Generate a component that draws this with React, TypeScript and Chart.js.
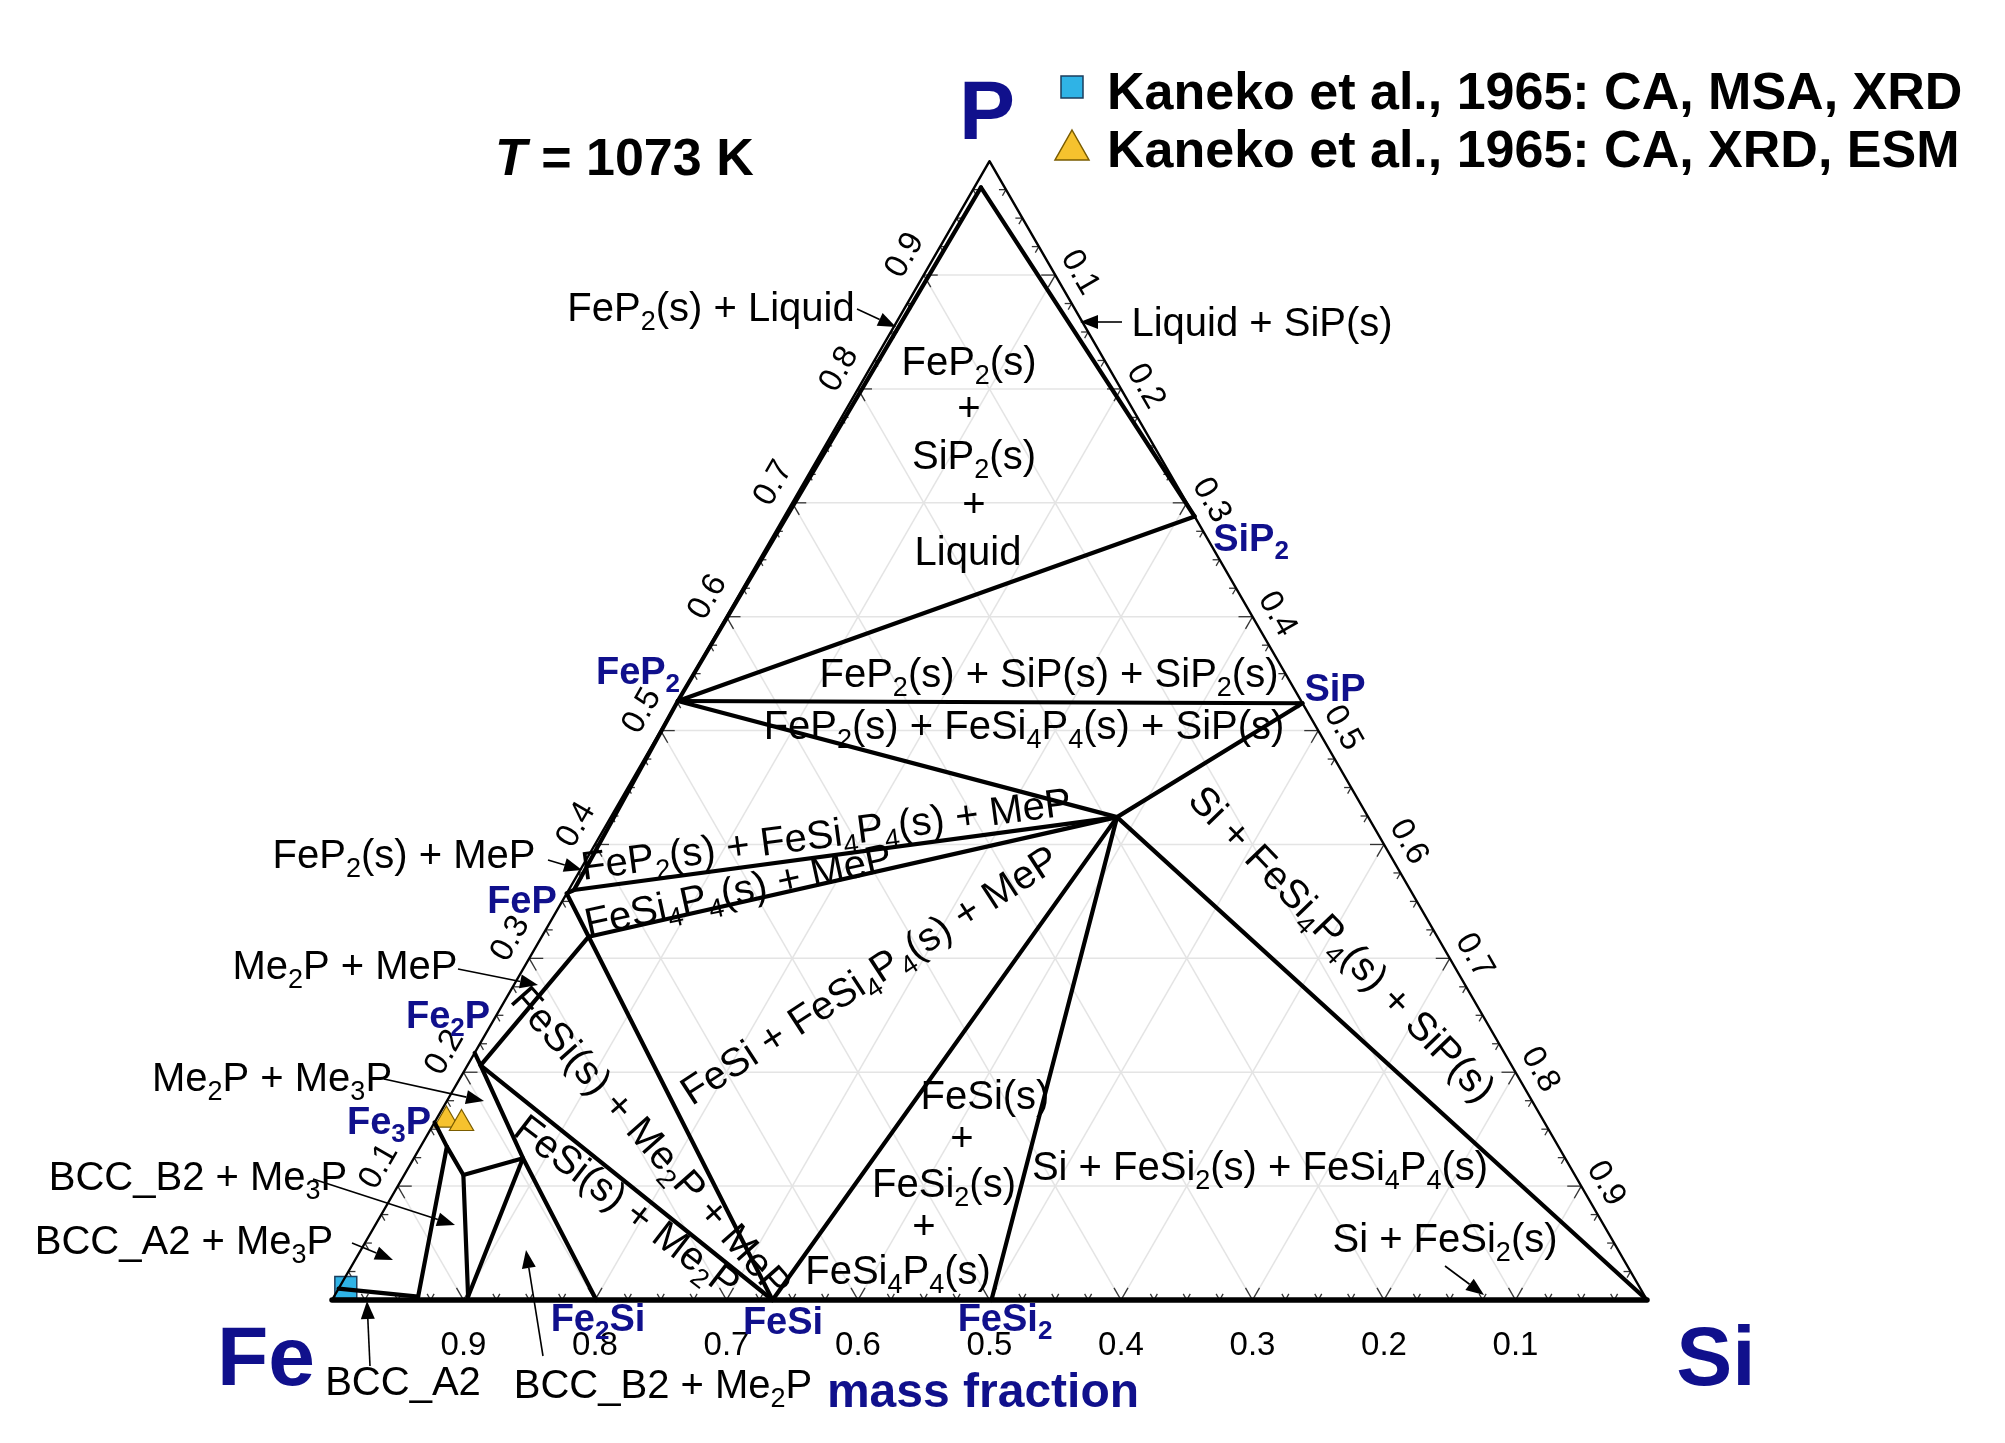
import React, { useEffect, useRef } from "react";
import { Chart, registerables } from "chart.js";

Chart.register(...registerables);

const CANVAS_W = 2005;
const CANVAS_H = 1443;
const SQ3 = Math.sqrt(3);
const FONT = '"Liberation Sans", Arial, Helvetica, sans-serif';

// ---------- data: compositions as [P mass fraction, Si mass fraction] (Fe = 1 - P - Si) ----------
const pCorner = [1, 0];
const feCorner = [0, 0];
const siCorner = [0, 1];
const liquidCorner = [0.977, 0.005];
const feP2Pt = [0.526, 0];
const siP2Pt = [0.688, 0.312];
const siPPt = [0.524, 0.476];
const feSi4P4Pt = [0.424, 0.385];
const fePPt = [0.357, 0];
const fePLimit = [0.36, 0.004];
const mePLimit = [0.319, 0.0357];
const fe2PPt = [0.217, 0];
const me2PLimit = [0.206, 0.01];
const fe3PPt = [0.156, 0];
const me3PLimit = [0.1347, 0.02];
const b2Corner = [0.1098, 0.045];
const fe2PJunction = [0.1245, 0.083];
const b2Limit = [0.003, 0.102];
const a2Limit = [0.003, 0.064];
const a2PLimit = [0.01, 0];
const fe2SiPt = [0, 0.201];
const feSiPt = [0, 0.335];
const feSi2Pt = [0, 0.5015];

const triangleBorder = [pCorner, feCorner, siCorner, pCorner];
const bottomEdge = [feCorner, siCorner];

const boundaryLines = [
  [liquidCorner, feP2Pt],
  [liquidCorner, siP2Pt],
  [feP2Pt, siP2Pt],
  [feP2Pt, siPPt],
  [feP2Pt, feSi4P4Pt],
  [siPPt, feSi4P4Pt],
  [feSi4P4Pt, siCorner],
  [feSi4P4Pt, feSi2Pt],
  [feSi4P4Pt, feSiPt],
  [feP2Pt, fePLimit, fePPt],
  [fePLimit, feSi4P4Pt],
  [fePPt, mePLimit, feSiPt],
  [mePLimit, feSi4P4Pt],
  [fe2PPt, me2PLimit, mePLimit],
  [me2PLimit, feSiPt],
  [me2PLimit, fe2PJunction, fe2SiPt],
  [fe3PPt, me3PLimit, a2Limit],
  [me3PLimit, b2Corner, b2Limit],
  [b2Corner, fe2PJunction, b2Limit],
  [a2PLimit, a2Limit],
];

const kanekoMsaPoints = [[0.011, 0.005]];
const kanekoEsmPoints = [
  [0.158, 0.008],
  [0.155, 0.021],
];

const gridFractions = [0.1, 0.2, 0.3, 0.4, 0.5, 0.6, 0.7, 0.8, 0.9];
const tickLabels = ["0.1", "0.2", "0.3", "0.4", "0.5", "0.6", "0.7", "0.8", "0.9"];
const legendLabels = ["Kaneko et al., 1965: CA, MSA, XRD", "Kaneko et al., 1965: CA, XRD, ESM"];

// ---------- geometry (layout) ----------
const SIDE_PX = 1315;
const FE_X = 332;
const BASE_Y = 1300;
const X_MIN = -FE_X / SIDE_PX;
const X_MAX = X_MIN + CANVAS_W / SIDE_PX;
const Y_MIN = -(CANVAS_H - BASE_Y) / SIDE_PX;
const Y_MAX = Y_MIN + CANVAS_H / SIDE_PX;

const BLUE = "#10108c";

function toXY(c: number[]) {
  const [p, s] = c;
  return { x: s + p / 2, y: (p * SQ3) / 2 };
}

type Seg = { t: string; sub: boolean; it: boolean };

function drawRich(
  ctx: CanvasRenderingContext2D,
  text: string,
  x: number,
  y: number,
  size: number,
  opts: { bold?: boolean; color?: string; align?: string; rot?: number } = {}
) {
  const { bold = false, color = "#000", align = "center", rot = 0 } = opts;
  const segs: Seg[] = [];
  let buf = "";
  let italic = false;
  let i = 0;
  while (i < text.length) {
    const c = text[i];
    if (c === "_" && i + 1 < text.length && /[0-9]/.test(text[i + 1])) {
      if (buf) segs.push({ t: buf, sub: false, it: italic });
      buf = "";
      segs.push({ t: text[i + 1], sub: true, it: italic });
      i += 2;
      continue;
    }
    if (c === "*") {
      if (buf) segs.push({ t: buf, sub: false, it: italic });
      buf = "";
      italic = !italic;
      i++;
      continue;
    }
    buf += c;
    i++;
  }
  if (buf) segs.push({ t: buf, sub: false, it: italic });
  const fontFor = (seg: Seg) =>
    `${seg.it ? "italic " : ""}${bold ? "bold " : ""}${seg.sub ? Math.round(size * 0.68) : size}px ${FONT}`;
  let total = 0;
  const widths = segs.map((seg) => {
    ctx.font = fontFor(seg);
    const w = ctx.measureText(seg.t).width;
    total += w;
    return w;
  });
  ctx.save();
  ctx.translate(x, y);
  ctx.rotate((rot * Math.PI) / 180);
  ctx.fillStyle = color;
  ctx.textBaseline = "alphabetic";
  ctx.textAlign = "left";
  let cx = align === "center" ? -total / 2 : align === "right" ? -total : 0;
  const base = size * 0.36;
  segs.forEach((seg, k) => {
    ctx.font = fontFor(seg);
    ctx.fillText(seg.t, cx, base + (seg.sub ? size * 0.22 : 0));
    cx += widths[k];
  });
  ctx.restore();
}

function drawArrow(ctx: CanvasRenderingContext2D, x1: number, y1: number, x2: number, y2: number) {
  const ang = Math.atan2(y2 - y1, x2 - x1);
  const hl = 18;
  const hw = 7;
  const bx = x2 - Math.cos(ang) * hl;
  const by = y2 - Math.sin(ang) * hl;
  ctx.save();
  ctx.strokeStyle = "#000";
  ctx.fillStyle = "#000";
  ctx.lineWidth = 1.6;
  ctx.beginPath();
  ctx.moveTo(x1, y1);
  ctx.lineTo(bx, by);
  ctx.stroke();
  ctx.beginPath();
  ctx.moveTo(x2, y2);
  ctx.lineTo(bx + Math.sin(ang) * hw, by - Math.cos(ang) * hw);
  ctx.lineTo(bx - Math.sin(ang) * hw, by + Math.cos(ang) * hw);
  ctx.closePath();
  ctx.fill();
  ctx.restore();
}

// annotation layout (canvas pixels)
const regionLabels: [string, number, number, number][] = [
  ["FeP_2(s) + Liquid", 711, 307, 0],
  ["Liquid + SiP(s)", 1262, 322, 0],
  ["FeP_2(s)", 969, 361, 0],
  ["+", 969, 407, 0],
  ["SiP_2(s)", 974, 455, 0],
  ["+", 974, 503, 0],
  ["Liquid", 968, 551, 0],
  ["FeP_2(s) + SiP(s) + SiP_2(s)", 1049, 673, 0],
  ["FeP_2(s) + FeSi_4P_4(s) + SiP(s)", 1024, 725, 0],
  ["FeP_2(s) + FeSi_4P_4(s) + MeP", 826, 833, -7.6],
  ["FeSi_4P_4(s) + MeP", 738, 889, -12.3],
  ["FeSi + FeSi_4P_4(s) + MeP", 869, 974, -33],
  ["Si + FeSi_4P_4(s) + SiP(s)", 1343, 943, 46],
  ["FeSi(s)", 985, 1095, 0],
  ["+", 962, 1137, 0],
  ["FeSi_2(s)", 944, 1183, 0],
  ["+", 924, 1225, 0],
  ["FeSi_4P_4(s)", 898, 1270, 0],
  ["Si + FeSi_2(s) + FeSi_4P_4(s)", 1260, 1166, 0],
  ["Si + FeSi_2(s)", 1445, 1238, 0],
  ["FeP_2(s) + MeP", 404, 854, 0],
  ["Me_2P + MeP", 345, 965, 0],
  ["Me_2P + Me_3P", 272, 1077, 0],
  ["BCC_B2 + Me_3P", 198, 1176, 0],
  ["BCC_A2 + Me_3P", 184, 1240, 0],
  ["BCC_A2", 403, 1381, 0],
  ["BCC_B2 + Me_2P", 663, 1384, 0],
  ["FeSi(s) + Me_2P + MeP", 652, 1141, 48.5],
  ["FeSi(s) + Me_2P", 628, 1205, 37.5],
];

const compoundLabels: [string, number, number][] = [
  ["FeP_2", 638, 670],
  ["SiP_2", 1251, 537],
  ["SiP", 1335, 687],
  ["FeP", 522, 899],
  ["Fe_2P", 448, 1014],
  ["Fe_3P", 389, 1120],
  ["Fe_2Si", 598, 1317],
  ["FeSi", 783, 1320],
  ["FeSi_2", 1005, 1317],
];

const arrows: [number, number, number, number][] = [
  [857, 309, 896, 327],
  [1122, 322, 1080, 322],
  [548, 860, 582, 870],
  [458, 969, 538, 985],
  [384, 1079, 484, 1101],
  [313, 1179, 455, 1225],
  [352, 1243, 393, 1260],
  [370, 1366, 367, 1301],
  [543, 1356, 526, 1250],
  [1445, 1266, 1484, 1295],
];

export default function App() {
  const ref = useRef<HTMLCanvasElement | null>(null);

  useEffect(() => {
    const canvas = ref.current;
    if (!canvas) return;
    document.body.style.margin = "0";

    const lineDs = (pts: number[][], width: number) => ({
      data: pts.map(toXY),
      showLine: true,
      borderColor: "#000",
      borderWidth: width,
      pointRadius: 0,
      fill: false,
      tension: 0,
      borderCapStyle: "round" as const,
      borderJoinStyle: "round" as const,
    });

    const datasets: any[] = [
      lineDs(triangleBorder, 2.4),
      lineDs(bottomEdge, 5.5),
      ...boundaryLines.map((l) => lineDs(l, 4.2)),
      {
        data: kanekoMsaPoints.map(toXY),
        showLine: false,
        pointStyle: "rect",
        pointRadius: 15.5,
        backgroundColor: "#2fb3e6",
        borderColor: "#1b3d5c",
        borderWidth: 1.5,
      },
      {
        data: kanekoEsmPoints.map(toXY),
        showLine: false,
        pointStyle: "triangle",
        pointRadius: 14,
        backgroundColor: "#f6c22e",
        borderColor: "#7a5c00",
        borderWidth: 1.2,
      },
    ];

    const bgPlugin = {
      id: "bg",
      beforeDraw(chart: any) {
        const c = chart.ctx;
        c.save();
        c.fillStyle = "#fff";
        c.fillRect(0, 0, chart.width, chart.height);
        c.restore();
      },
    };

    const gridPlugin = {
      id: "ternaryGrid",
      beforeDatasetsDraw(chart: any) {
        const c: CanvasRenderingContext2D = chart.ctx;
        const sx = chart.scales.x;
        const sy = chart.scales.y;
        const px = (p: number, s: number) => {
          const v = toXY([p, s]);
          return [sx.getPixelForValue(v.x), sy.getPixelForValue(v.y)];
        };
        c.save();
        c.strokeStyle = "#e4e4e4";
        c.lineWidth = 1.5;
        gridFractions.forEach((f) => {
          const segs = [
            [px(f, 0), px(f, 1 - f)],
            [px(0, f), px(1 - f, f)],
            [px(0, 1 - f), px(1 - f, 0)],
          ];
          segs.forEach(([a, b]) => {
            c.beginPath();
            c.moveTo(a[0], a[1]);
            c.lineTo(b[0], b[1]);
            c.stroke();
          });
        });
        // ticks
        c.strokeStyle = "#333";
        c.lineWidth = 1.3;
        const edges: [(t: number) => number[], number[][]][] = [
          [(t) => px(0, t), [[0.5, -0.866], [-0.5, -0.866]]],
          [(t) => px(t, 0), [[1, 0], [0.5, 0.866]]],
          [(t) => px(t, 1 - t), [[-1, 0], [-0.5, 0.866]]],
        ];
        edges.forEach(([fn, dirs]) => {
          for (let k = 1; k < 40; k++) {
            const t = k / 40;
            const [x0, y0] = fn(t);
            const len = k % 4 === 0 ? 14 : 7;
            dirs.forEach(([dx, dy]) => {
              c.beginPath();
              c.moveTo(x0, y0);
              c.lineTo(x0 + dx * len, y0 + dy * len);
              c.stroke();
            });
          }
        });
        c.restore();
      },
    };

    const textPlugin = {
      id: "ternaryText",
      afterDraw(chart: any) {
        const c: CanvasRenderingContext2D = chart.ctx;
        const sx = chart.scales.x;
        const sy = chart.scales.y;
        const px = (p: number, s: number) => {
          const v = toXY([p, s]);
          return [sx.getPixelForValue(v.x), sy.getPixelForValue(v.y)];
        };
        // tick labels
        gridFractions.forEach((f, i) => {
          const lab = tickLabels[i];
          const [bx, by] = px(0, 1 - f);
          drawRich(c, lab, bx, by + 43, 33);
          const [lx, ly] = px(f, 0);
          drawRich(c, lab, lx - 21, ly - 21, 33, { rot: -60 });
          const [rx, ry] = px(1 - f, f);
          drawRich(c, lab, rx + 27, ry - 4, 33, { rot: 60 });
        });
        // corners
        drawRich(c, "P", 987, 109, 84, { bold: true, color: BLUE });
        drawRich(c, "Fe", 266, 1355, 84, { bold: true, color: BLUE });
        drawRich(c, "Si", 1716, 1355, 84, { bold: true, color: BLUE });
        drawRich(c, "mass fraction", 983, 1390, 48, { bold: true, color: BLUE });
        // title
        drawRich(c, "*T* = 1073 K", 495, 156, 52, { bold: true, align: "left" });
        // legend
        c.save();
        c.fillStyle = "#2fb3e6";
        c.strokeStyle = "#1b3d5c";
        c.lineWidth = 1.5;
        c.fillRect(1061, 76, 22, 22);
        c.strokeRect(1061, 76, 22, 22);
        c.fillStyle = "#f6c22e";
        c.strokeStyle = "#7a5c00";
        c.beginPath();
        c.moveTo(1072, 130);
        c.lineTo(1089, 160);
        c.lineTo(1055, 160);
        c.closePath();
        c.fill();
        c.stroke();
        c.restore();
        drawRich(c, legendLabels[0], 1107, 90, 52, { bold: true, align: "left" });
        drawRich(c, legendLabels[1], 1107, 148, 52, { bold: true, align: "left" });
        // region labels
        regionLabels.forEach(([t, x, y, r]) => drawRich(c, t, x, y, 40, { rot: r }));
        compoundLabels.forEach(([t, x, y]) => drawRich(c, t, x, y, 38, { bold: true, color: BLUE }));
        arrows.forEach(([x1, y1, x2, y2]) => drawArrow(c, x1, y1, x2, y2));
      },
    };

    const chart = new Chart(canvas, {
      type: "scatter",
      data: { datasets },
      options: {
        animation: false,
        responsive: false,
        maintainAspectRatio: false,
        devicePixelRatio: 1,
        layout: { padding: 0, autoPadding: false },
        events: [],
        scales: {
          x: { type: "linear", min: X_MIN, max: X_MAX, display: false },
          y: { type: "linear", min: Y_MIN, max: Y_MAX, display: false },
        },
        plugins: {
          legend: { display: false },
          tooltip: { enabled: false },
        },
      },
      plugins: [bgPlugin, gridPlugin, textPlugin],
    } as any);

    return () => chart.destroy();
  }, []);

  return (
    <div style={{ position: "absolute", left: 0, top: 0, width: CANVAS_W, height: CANVAS_H }}>
      <canvas ref={ref} width={CANVAS_W} height={CANVAS_H} style={{ width: CANVAS_W, height: CANVAS_H }} />
    </div>
  );
}
